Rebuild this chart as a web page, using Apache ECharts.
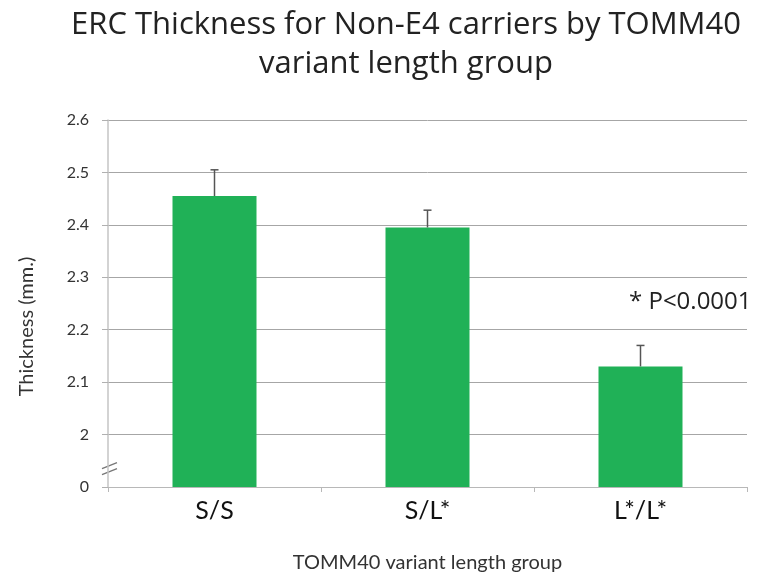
<!DOCTYPE html>
<html>
<head>
<meta charset="utf-8">
<script src="https://cdn.jsdelivr.net/npm/echarts@6/dist/echarts.min.js"></script>
<style>
  html, body { margin: 0; padding: 0; background: #fff; }
  #chart { width: 762px; height: 580px; }
</style>
</head>
<body>
<div id="chart"></div>
<script>
// Mean ERC thickness (mm) per TOMM40 variant length group, non-E4 carriers
const groups = ['S/S', 'S/L*', 'L*/L*'];
const thickness = [2.455, 2.395, 2.13];
const errorTop = [2.505, 2.428, 2.17];

// The value axis is broken: its floor (1.9) is labelled as 0
const axisFloor = 1.9;
const axisCeil = 2.6;
const axisStep = 0.1;
const breakAt = 1.935;

const FONT = 'Lato, "Open Sans", sans-serif';
const HEAD_FONT = '"Open Sans", Lato, sans-serif';
const BAR_GREEN = '#20b157';

const chart = echarts.init(document.getElementById('chart'), null, { renderer: 'canvas' });

chart.setOption({
  backgroundColor: '#ffffff',
  animation: false,
  title: [
    {
      text: 'ERC Thickness for Non-E4 carriers by TOMM40\nvariant length group',
      left: 401,
      top: 1,
      textAlign: 'center',
      textStyle: {
        fontFamily: HEAD_FONT,
        fontSize: 31,
        fontWeight: 'normal',
        color: '#222',
        lineHeight: 39
      }
    },
    {
      text: '* P<0.0001',
      left: 624,
      top: 285,
      textStyle: {
        fontFamily: HEAD_FONT,
        fontSize: 24,
        fontWeight: 'normal',
        color: '#222'
      }
    }
  ],
  grid: { left: 108, right: 15, top: 120, bottom: 93, containLabel: false },
  xAxis: {
    type: 'category',
    data: groups,
    boundaryGap: true,
    name: 'TOMM40 variant length group',
    nameLocation: 'middle',
    nameGap: 66,
    nameTextStyle: { fontFamily: FONT, fontSize: 20, color: '#333' },
    axisLine: { lineStyle: { color: '#b8b8b8', width: 1 } },
    axisTick: { show: true, length: 5, lineStyle: { color: '#b8b8b8' } },
    axisLabel: { fontFamily: FONT, fontSize: 25, color: '#111', margin: 11 }
  },
  yAxis: {
    type: 'value',
    min: axisFloor,
    max: axisCeil,
    interval: axisStep,
    name: 'Thickness (mm.)',
    nameLocation: 'middle',
    nameGap: 71,
    nameTextStyle: { fontFamily: FONT, fontSize: 20, color: '#333', padding: [0, 46, 0, 0] },
    axisLine: { show: true, lineStyle: { color: '#c4c4c4', width: 1.5 } },
    axisTick: { show: true, inside: false, length: 6, lineStyle: { color: '#b0b0b0' } },
    axisLabel: {
      fontFamily: FONT,
      fontSize: 16,
      color: '#333',
      margin: 19,
      formatter: function (v) {
        if (Math.abs(v - axisFloor) < 1e-6) return '0';
        return String(Math.round(v * 10) / 10);
      }
    },
    splitLine: { show: true, lineStyle: { color: '#a6a6a6', width: 1 } }
  },
  series: [
    {
      type: 'bar',
      data: thickness,
      barWidth: 84,
      itemStyle: { color: BAR_GREEN },
      z: 2
    },
    {
      type: 'custom',
      data: groups.map(function (g, i) { return [i, thickness[i], errorTop[i]]; }),
      z: 3,
      renderItem: function (params, api) {
        const base = api.coord([api.value(0), api.value(1)]);
        const top = api.coord([api.value(0), api.value(2)]);
        const cap = 4;
        const style = { stroke: '#555', lineWidth: 1.5, fill: null };
        return {
          type: 'group',
          children: [
            { type: 'line', shape: { x1: base[0], y1: base[1], x2: top[0], y2: top[1] }, style: style },
            { type: 'line', shape: { x1: top[0] - cap, y1: top[1], x2: top[0] + cap, y2: top[1] }, style: style }
          ]
        };
      }
    }
  ]
});

// Break mark "//" on the value axis between 0 and 2
const mid = chart.convertToPixel({ yAxisIndex: 0 }, breakAt);
const axisX = chart.convertToPixel({ xAxisIndex: 0 }, 0) - 106.5;
const slash = function (dy) {
  return {
    type: 'line',
    shape: { x1: axisX - 6, y1: mid + dy + 3, x2: axisX + 9, y2: mid + dy - 3 },
    style: { stroke: '#777', lineWidth: 1.2 }
  };
};
chart.setOption({
  graphic: [
    { type: 'rect', shape: { x: axisX - 2, y: mid - 8, width: 4, height: 16 }, style: { fill: '#fff' } },
    slash(-3),
    slash(3)
  ]
});
</script>
</body>
</html>
